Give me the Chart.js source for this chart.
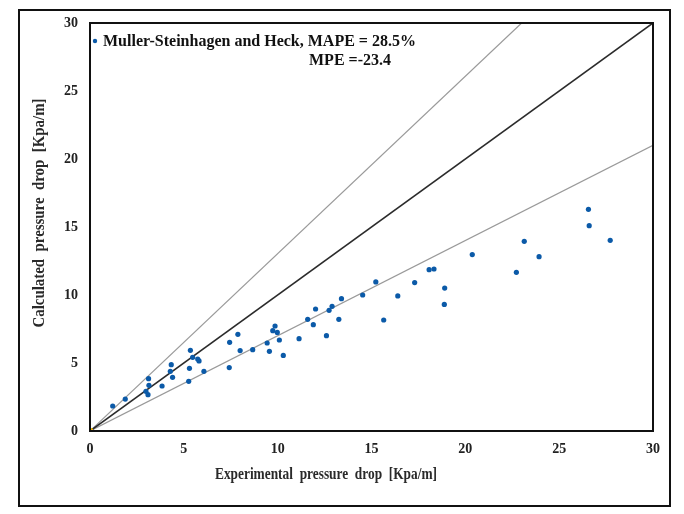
<!DOCTYPE html>
<html>
<head>
<meta charset="utf-8">
<style>
html,body{margin:0;padding:0;background:#fff;}
#wrap{position:relative;width:684px;height:514px;}
</style>
<script src="https://cdn.jsdelivr.net/npm/chart.js@4/dist/chart.umd.min.js"></script>
</head>
<body>
<div id="wrap"><canvas id="c" width="684" height="514"></canvas></div>
<script>
// Experimental pressure drop [Kpa/m]
const expX = [1.21,1.88,2.98,3.12,3.14,3.09,3.84,4.28,4.33,4.40,5.26,5.30,5.35,5.47,5.74,5.81,6.07,7.42,7.44,7.88,8.00,8.67,9.44,9.56,9.74,9.86,9.98,10.09,10.30,11.14,11.60,11.90,12.02,12.60,12.74,12.90,13.26,13.40,14.53,15.23,15.65,16.40,17.30,18.07,18.33,18.90,18.88,20.37,22.72,23.14,23.93,26.56,26.60,27.72];
// Calculated pressure drop [Kpa/m]
const calcY = [1.84,2.35,2.92,3.85,3.36,2.67,3.31,4.39,4.88,3.95,3.65,4.61,5.93,5.42,5.29,5.15,4.39,4.66,6.52,7.11,5.91,5.98,6.47,5.86,7.38,7.72,7.25,6.69,5.56,6.79,8.21,7.82,8.97,7.01,8.87,9.17,8.21,9.73,10.00,10.96,8.16,9.93,10.91,11.86,11.91,10.51,9.31,12.97,11.67,13.95,12.82,16.30,15.10,14.02];
// Reference lines: perfect agreement and +/-30 %
const lineX = [0, 30];
const perfectY = [0, 30];
const upperX = [0, 23];
const upperY = [0, 30];
const lowerY = [0, 21];
const originPt = [0, 0];
const tickVals = [0, 5, 10, 15, 20, 25, 30];
const legendLine1 = "Muller-Steinhagen and Heck, MAPE = 28.5%";
const legendLine2 = "MPE =-23.4";
const xTitle = "Experimental  pressure  drop  [Kpa/m]";
const yTitle = "Calculated  pressure  drop  [Kpa/m]";

const pts = expX.map((x, i) => ({x: x, y: calcY[i]}));
const mk = (xs, ys) => xs.map((x, i) => ({x: x, y: ys[i]}));

const SERIF = '"Liberation Serif","DejaVu Serif",serif';

const deco = {
  id: 'deco',
  afterDraw(chart) {
    const ctx = chart.ctx;
    const a = chart.chartArea;
    ctx.save();
    // plot box
    ctx.strokeStyle = '#111';
    ctx.lineWidth = 2;
    ctx.strokeRect(a.left, a.top, a.right - a.left, a.bottom - a.top);
    // outer frame
    ctx.lineWidth = 2;
    ctx.strokeRect(19, 10, 651, 496);
    // legend
    ctx.fillStyle = '#0b5aa8';
    ctx.beginPath();
    ctx.arc(95, 41, 2.2, 0, Math.PI * 2);
    ctx.fill();
    ctx.fillStyle = '#111';
    ctx.font = 'bold 16px ' + SERIF;
    ctx.textBaseline = 'middle';
    ctx.textAlign = 'left';
    ctx.fillText(legendLine1, 103, 42, 313);
    ctx.fillText(legendLine2, 309, 61, 82);
    // axis titles
    ctx.fillStyle = '#2a2a2a';
    ctx.font = 'bold 17px ' + SERIF;
    ctx.textAlign = 'center';
    ctx.fillText(xTitle, 326, 475, 222);
    ctx.translate(40, 213);
    ctx.rotate(-Math.PI / 2);
    ctx.fillText(yTitle, 0, 0, 229);
    ctx.restore();
  }
};

const tickFont = {family: SERIF, size: 14, weight: 'bold'};

new Chart(document.getElementById('c'), {
  type: 'scatter',
  data: {
    datasets: [
      {data: pts, backgroundColor: '#0b5aa8', borderColor: '#0b5aa8', pointRadius: 2.6, pointBorderWidth: 0, order: 0},
      {data: mk(originPt.slice(0,1), originPt.slice(1)), backgroundColor: '#f2b705', borderColor: '#f2b705', pointRadius: 3, order: 0},
      {type: 'line', data: mk(lineX, perfectY), borderColor: '#2b2b2b', borderWidth: 1.6, pointRadius: 0, fill: false, order: 1},
      {type: 'line', data: mk(upperX, upperY), borderColor: '#9a9a9a', borderWidth: 1.2, pointRadius: 0, fill: false, order: 1},
      {type: 'line', data: mk(lineX, lowerY), borderColor: '#9a9a9a', borderWidth: 1.2, pointRadius: 0, fill: false, order: 1}
    ]
  },
  options: {
    responsive: false,
    animation: false,
    layout: {padding: {left: 0, right: 31, top: 23, bottom: 0}},
    plugins: {legend: {display: false}, tooltip: {enabled: false}},
    scales: {
      x: {
        type: 'linear', min: 0, max: 30,
        afterBuildTicks: s => { s.ticks = tickVals.map(v => ({value: v})); },
        afterFit: s => { s.height = 83; },
        grid: {display: false},
        border: {display: true, color: '#111', width: 2},
        ticks: {font: tickFont, color: '#222', padding: 2, maxRotation: 0}
      },
      y: {
        type: 'linear', min: 0, max: 30,
        afterBuildTicks: s => { s.ticks = tickVals.map(v => ({value: v})); },
        afterFit: s => { s.width = 90; },
        grid: {display: false},
        border: {display: true, color: '#111', width: 2},
        ticks: {font: tickFont, color: '#222', padding: 4}
      }
    }
  },
  plugins: [deco]
});
</script>
</body>
</html>
